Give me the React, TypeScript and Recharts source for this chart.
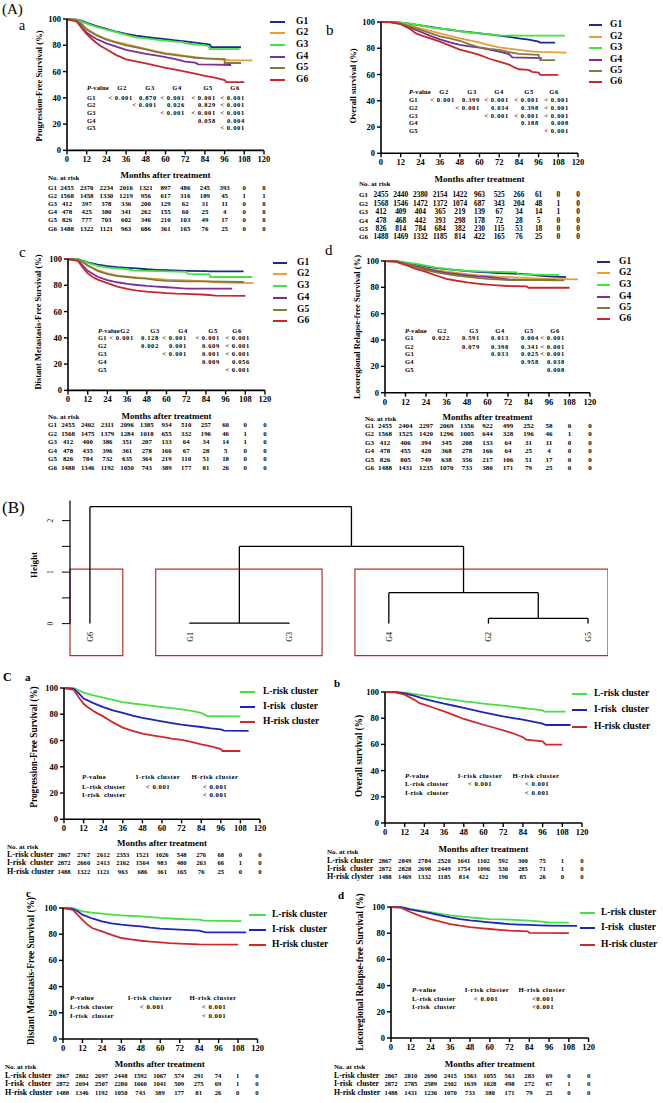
import React from "react";
import { LineChart, Line, XAxis, YAxis, ReferenceLine, ReferenceArea } from "recharts";

type Pt = [number, number];
type Geo = { x0: number; x1: number; yTop: number; yBot: number };

const SERIF = '"Liberation Serif", "Times New Roman", serif';

const monthTicks = [0, 12, 24, 36, 48, 60, 72, 84, 96, 108, 120];
const survTicks = [0, 20, 40, 60, 80, 100];

const groupNames = ["G1", "G2", "G3", "G4", "G5", "G6"];
const groupColors = ["#1c2a8c", "#e89c3c", "#3ee63e", "#7b2d98", "#7f7b3b", "#c8282b"];
const clusterNames = ["L-risk cluster", "I-risk  cluster", "H-risk cluster"];
const clusterColors = ["#44e044", "#1e24b8", "#cc2a2a"];

// (A)a progression-free survival
const pfsG1: Pt[] = [[0,100],[6,99.6],[9,98.5],[12,97],[18,94.5],[24,92.4],[30,90.3],[36,88.6],[42,87.3],[48,86.3],[54,85.5],[60,84.6],[66,83.8],[72,83],[78,82],[84,81],[87,80.5],[88,78.5],[106,78.5]];
const pfsG2: Pt[] = [[0,100],[6,99],[9,96],[12,92.5],[18,88],[24,84.8],[30,82.5],[36,80.8],[42,79],[48,77.2],[54,75.5],[60,74],[66,73],[72,72],[78,71],[84,70],[90,69.5],[96,69],[100,68.5],[113,68.5]];
const pfsG3: Pt[] = [[0,100],[6,99.5],[12,96.5],[18,94],[24,92],[30,90],[36,88],[42,86],[48,85.2],[54,84.3],[60,83.5],[66,82.8],[70,82.5],[72,81.5],[84,80],[86,79.5],[87,77],[105,77]];
const pfsG4: Pt[] = [[0,100],[6,98.5],[9,94],[12,89.5],[15,87],[18,84.8],[24,81.5],[30,79],[36,76.5],[42,75],[48,73.5],[54,72.3],[60,71],[66,69.5],[72,67.5],[78,66.8],[80,65.5],[90,65.2],[100,65]];
const pfsG5: Pt[] = [[0,100],[6,99],[9,96],[12,92],[18,87.5],[24,84.3],[30,82],[36,80],[42,78.5],[48,76.8],[54,75],[60,73.5],[66,72.5],[72,71.5],[78,70.5],[84,70],[96,69.5],[96,66.5],[106,66.5]];
const pfsG6: Pt[] = [[0,100],[6,98],[9,93],[12,88.5],[15,85],[18,81.7],[21,79],[24,77],[30,72.5],[36,69.3],[42,67.8],[48,66.3],[54,64.5],[60,62.8],[66,61.5],[72,60],[78,58.5],[84,56.8],[90,55.4],[96,53.5],[97,52],[108,52]];

// (A)b overall survival
const osG1: Pt[] = [[0,100],[6,100],[12,99.5],[18,98.5],[24,97.5],[30,96.3],[36,95.2],[42,94],[48,93],[54,92.2],[60,91.4],[66,90.5],[72,89.6],[78,88.6],[84,87.6],[90,86.5],[96,85],[97,84.3],[106,84.3]];
const osG2: Pt[] = [[0,100],[6,100],[12,99],[18,97.3],[24,95.2],[30,93.3],[36,91.4],[42,89.5],[48,87.6],[54,86],[60,84.3],[66,82.4],[72,80.7],[78,79.7],[84,78.7],[90,77.8],[96,77.2],[113,76.6]];
const osG3: Pt[] = [[0,100],[6,100],[12,99.5],[18,98.7],[24,97.5],[30,96],[36,95],[42,94.3],[48,92.8],[54,92],[60,91.4],[66,90.5],[72,89.8],[84,89.6],[112,89.6]];
const osG4: Pt[] = [[0,100],[6,100],[12,98.5],[18,95.5],[24,92.6],[30,89.5],[36,86.8],[42,84.5],[48,82.5],[54,81.5],[60,80.5],[66,79],[72,77.4],[78,75.5],[80,73],[98,72.5]];
const osG5: Pt[] = [[0,100],[6,100],[12,98.8],[18,96.5],[24,94],[30,91.5],[36,89],[42,87.5],[48,85.7],[54,83],[60,80.7],[66,79.5],[72,78.7],[78,77],[84,75.7],[96,75],[97,71],[106,71]];
const osG6: Pt[] = [[0,100],[6,99.8],[12,98.3],[18,94.5],[21,91.5],[24,90],[30,87.5],[36,85],[42,82],[48,79],[54,77],[60,74.9],[66,72],[72,69.8],[78,67.5],[82,65],[84,64],[90,63.5],[92,62],[96,61.5],[97,59.8],[108,59.8]];

// (A)c distant metastasis-free survival
const dmfsG1: Pt[] = [[0,100],[6,99.8],[12,97.5],[18,95.8],[24,94.5],[30,93.8],[36,93.3],[42,92.8],[48,92.2],[54,91.8],[60,91.5],[72,91],[84,90.8],[86,90.6],[107,90.6]];
const dmfsG2: Pt[] = [[0,100],[6,99.5],[9,97.5],[12,95],[18,91.5],[24,89],[30,87.5],[36,86.8],[42,86],[48,85.3],[54,84.8],[60,84.3],[72,83.8],[84,83],[90,82.3],[96,82],[113,81.7]];
const dmfsG3: Pt[] = [[0,100],[6,99.8],[12,97],[18,94.8],[24,93.5],[30,92.8],[36,92.2],[40,91.2],[48,91],[60,90.6],[72,90.2],[73,88.6],[86,88.3],[87,86.3],[112,86.3]];
const dmfsG4: Pt[] = [[0,100],[6,99],[9,95],[12,91],[18,86.5],[24,84],[30,82.3],[36,81],[42,80.2],[48,79.5],[54,79],[60,78.5],[66,78],[72,77.5],[84,77.4],[100,77.4]];
const dmfsG5: Pt[] = [[0,100],[6,99.5],[9,97.5],[12,95],[18,91],[24,88.5],[30,87],[36,86.2],[42,85.5],[48,85],[54,84],[60,83.3],[72,83],[84,83],[107,82.5]];
const dmfsG6: Pt[] = [[0,100],[6,98.5],[9,93.5],[12,89],[15,86.3],[18,84.3],[24,81.7],[30,79],[36,77.2],[42,76],[48,75.2],[54,74.6],[60,74],[66,73.6],[72,73.4],[84,72.8],[90,72.2],[108,72]];

// (A)d locoregional relapse-free survival
const lrfsG1: Pt[] = [[0,100],[6,100],[12,98.5],[18,97],[24,95.6],[30,94.6],[36,93.8],[42,93],[48,92.3],[54,91.8],[60,91.3],[66,90.9],[72,90.6],[78,90.2],[84,89.8],[90,89],[96,88.3],[106,87.8]];
const lrfsG2: Pt[] = [[0,100],[6,99.8],[12,98.3],[18,96.3],[24,94.5],[30,93],[36,92],[42,91],[48,90],[54,89.2],[60,88.6],[66,88.2],[72,87.8],[78,87.4],[84,87],[96,86.5],[113,86]];
const lrfsG3: Pt[] = [[0,100],[6,100],[12,99],[18,98],[24,96.5],[30,95],[36,94],[42,93],[48,92.5],[60,92],[72,91.5],[77,91.3],[78,89.8],[96,89.5],[102,89.5]];
const lrfsG4: Pt[] = [[0,100],[6,99.8],[12,98],[18,96],[24,94],[30,92.3],[36,91],[42,90],[48,89],[54,88.4],[60,88],[66,87],[72,86],[84,85.5],[100,85.5]];
const lrfsG5: Pt[] = [[0,100],[6,99.8],[12,97.8],[18,95.3],[24,93],[30,91.3],[36,90],[42,89],[48,88],[54,87.2],[60,86.5],[66,86],[72,85.5],[84,85.5],[105,85.3]];
const lrfsG6: Pt[] = [[0,100],[6,99.5],[12,97],[18,94],[24,91.8],[30,89],[36,86.5],[42,85],[48,83.7],[54,82.8],[60,82],[66,81.5],[72,81],[83,80.7],[84,79.7],[108,79.7]];

// (C) risk clusters
const pfsL: Pt[] = [[0,100],[6,99.8],[9,98.3],[12,96.5],[18,94.3],[24,92.6],[30,90.9],[36,89.3],[42,88.2],[48,87.3],[54,86.4],[60,85.5],[66,84.7],[72,83.8],[78,82.5],[84,81],[88,78.5],[108,78.4]];
const pfsI: Pt[] = [[0,100],[6,99.3],[9,96],[12,92],[18,88.5],[24,85.5],[30,83],[36,81],[42,79],[48,77.3],[54,75.9],[60,74.6],[66,73.3],[72,72.1],[78,71.2],[84,70.3],[90,69.3],[96,68.5],[98,67.5],[113,67.3]];
const pfsH: Pt[] = [[0,100],[6,98.5],[9,93],[12,88],[15,85],[18,82.5],[21,80.3],[24,78.4],[30,73.8],[36,69.8],[42,67.3],[48,65.2],[54,64],[60,62.7],[66,61.5],[72,60.5],[78,59],[84,57.1],[90,55.6],[96,53.5],[97,52],[108,52]];
const osL: Pt[] = [[0,100],[6,100],[12,99.5],[18,98.3],[24,97.2],[30,96.1],[36,95],[42,94],[48,92.9],[54,92],[60,91.1],[66,90.4],[72,89.6],[78,88.7],[84,87.8],[90,86.9],[96,86],[97,85],[110,85]];
const osI: Pt[] = [[0,100],[6,100],[12,99],[18,97],[24,94.7],[30,92.9],[36,91.1],[42,89.5],[48,87.8],[54,86.2],[60,84.5],[66,82.9],[72,81.4],[78,80.1],[84,78.9],[90,77.4],[96,75.8],[98,74.8],[113,74.8]];
const osH: Pt[] = [[0,100],[6,99.8],[12,98],[18,94],[21,91.5],[24,90.3],[30,87.8],[36,85.2],[42,82.3],[48,79.4],[54,77.2],[60,75],[66,72.9],[72,70.7],[78,68.5],[84,65.5],[86,63.6],[96,62.3],[98,59.8],[108,59.8]];
const dmfsL: Pt[] = [[0,100],[6,99.8],[12,97.5],[18,96.5],[24,95.7],[30,95],[36,94.4],[42,94],[48,93.6],[54,93],[60,92.4],[66,92],[72,91.6],[78,91.3],[84,91.1],[87,90.3],[110,90]];
const dmfsI: Pt[] = [[0,100],[6,99.3],[9,97.5],[12,94.9],[18,92],[24,89.8],[30,88.3],[36,87.3],[42,86.6],[48,86],[54,85],[60,84.2],[66,83.8],[72,83.5],[78,83.1],[84,82.7],[88,81.4],[113,81.4]];
const dmfsH: Pt[] = [[0,100],[6,98.5],[9,95],[12,91],[15,87.5],[18,84.7],[24,82.2],[30,79.5],[36,77.1],[42,76],[48,75],[54,74.3],[60,73.8],[66,73.2],[72,72.8],[84,72.3],[108,72]];
const lrfsL: Pt[] = [[0,100],[6,100],[12,98.5],[18,97.2],[24,96],[30,94.8],[36,93.6],[42,92.8],[48,92.1],[54,91.4],[60,90.8],[66,90.5],[72,90.3],[78,90],[84,89.6],[90,89],[96,88.3],[108,88]];
const lrfsI: Pt[] = [[0,100],[6,99.8],[12,98],[18,96.6],[24,95.4],[30,93.7],[36,92.1],[42,90.8],[48,89.8],[54,89],[60,88.3],[66,87.6],[72,87],[78,86.6],[84,86.3],[90,86],[96,85.8],[113,85.6]];
const lrfsH: Pt[] = [[0,100],[6,99.5],[12,96],[18,93],[24,90.8],[30,88.8],[36,87],[42,85.7],[48,84.7],[54,83.9],[60,83.2],[66,82.5],[72,81.9],[83,81.4],[84,80.2],[108,80]];

// numbers at risk
const riskAa = [
  [2455,2370,2234,2016,1321,897,486,245,393,0,0],
  [1568,1458,1330,1219,956,617,316,189,45,1,1],
  [412,397,378,336,200,129,62,31,11,0,0],
  [478,425,380,341,262,155,60,25,4,0,0],
  [826,777,703,602,346,210,103,49,17,0,0],
  [1488,1322,1121,963,686,361,165,76,25,0,0],
];
const riskAb = [
  [2455,2440,2380,2154,1422,963,525,266,61,0,0],
  [1568,1546,1472,1372,1074,687,343,204,48,1,0],
  [412,409,404,365,219,139,67,34,14,1,0],
  [478,468,442,393,298,178,72,28,5,0,0],
  [826,814,784,684,382,230,115,53,18,0,0],
  [1488,1469,1332,1185,814,422,165,76,25,0,0],
];
const riskAc = [
  [2455,2402,2311,2096,1385,934,510,257,60,0,0],
  [1568,1475,1379,1284,1018,655,332,196,46,1,0],
  [412,400,386,351,207,133,64,34,14,1,0],
  [478,435,396,361,278,166,67,28,5,0,0],
  [826,784,732,635,364,219,110,51,18,0,0],
  [1488,1346,1192,1050,743,389,177,81,26,0,0],
];
const riskAd = [
  [2455,2404,2297,2069,1356,922,499,252,58,0,0],
  [1568,1525,1420,1296,1005,644,328,196,46,1,0],
  [412,406,394,345,208,133,64,31,11,0,0],
  [478,455,420,368,278,166,64,25,4,0,0],
  [826,805,749,638,356,217,106,51,17,0,0],
  [1488,1431,1235,1070,733,380,171,79,25,0,0],
];
const riskCa = [
  [2867,2767,2612,2353,1521,1026,548,276,68,0,0],
  [2872,2660,2413,2162,1564,983,480,263,66,1,0],
  [1488,1322,1121,963,686,361,165,76,25,0,0],
];
const riskCb = [
  [2867,2849,2784,2520,1641,1102,592,300,75,1,0],
  [2872,2828,2698,2449,1754,1096,530,285,71,1,0],
  [1488,1469,1332,1185,814,422,190,85,26,0,0],
];
const riskCc = [
  [2867,2802,2697,2448,1592,1067,574,291,74,1,0],
  [2872,2694,2507,2280,1660,1041,509,275,69,1,0],
  [1488,1346,1192,1050,743,389,177,81,26,0,0],
];
const riskCd = [
  [2867,2810,2690,2415,1563,1055,563,283,69,0,0],
  [2872,2785,2589,2302,1639,1028,498,272,67,1,0],
  [1488,1431,1236,1070,733,380,171,79,25,0,0],
];

// pairwise p-values
const pHeadA = ["G2", "G3", "G4", "G5", "G6"];
const pRowsA = ["G1", "G2", "G3", "G4", "G5"];
const pValAa = [
  ["< 0.001","0.870","< 0.001","< 0.001","< 0.001"],
  ["","< 0.001","0.026","0.829","< 0.001"],
  ["","","< 0.001","< 0.001","< 0.001"],
  ["","","","0.058","0.004"],
  ["","","","","< 0.001"],
];
const pValAb = [
  ["< 0.001","0.399","< 0.001","< 0.001","< 0.001"],
  ["","< 0.001","0.034","0.398","< 0.001"],
  ["","","< 0.001","< 0.001","< 0.001"],
  ["","","","0.188","0.008"],
  ["","","","","< 0.001"],
];
const pValAc = [
  ["< 0.001","0.128","< 0.001","< 0.001","< 0.001"],
  ["","0.002","0.001","0.609","< 0.001"],
  ["","","< 0.001","0.001","< 0.001"],
  ["","","","0.009","0.056"],
  ["","","","","< 0.001"],
];
const pValAd = [
  ["0.022","0.591","0.013","0.004","< 0.001"],
  ["","0.079","0.398","0.341","< 0.001"],
  ["","","0.033","0.025","< 0.001"],
  ["","","","0.958","0.038"],
  ["","","","","0.008"],
];
const pHeadC = ["I-risk cluster", "H-risk cluster"];
const pRowsC = ["L-risk cluster", "I-risk  cluster"];
const pValC = [["< 0.001", "< 0.001"], ["", "< 0.001"]];
const pValCd = [["< 0.001", "<0.001"], ["", "<0.001"]];

// (B) hierarchical clustering
const dendroLeaves = ["G6", "G1", "G3", "G4", "G2", "G5"];
const dendroMerges: [number, number][] = [[-2, -3], [-5, -6], [-4, 2], [1, 3], [-1, 4]];
const dendroHeights = [0.01, 0.1, 0.6, 1.5, 2.27];
const dendroClusters: [number, number][] = [[1, 1], [2, 3], [4, 6]];
const dendroCut = 1.06;
const heightTicks = [0, 0.5, 1, 1.5, 2];

function Txt(p: any) {
  const { x, y, size, bold, align = "left", rot, italic, ls = 0, children } = p;
  const tx = align === "left" ? "0" : align === "center" ? "-50%" : "-100%";
  return (
    <div
      style={{
        position: "absolute",
        left: x,
        top: y,
        transform: rot ? "translate(-50%,-50%) rotate(-90deg)" : `translate(${tx},-50%)`,
        fontFamily: SERIF,
        fontSize: size,
        fontWeight: bold ? 700 : 400,
        fontStyle: italic ? "italic" : "normal",
        letterSpacing: ls,
        whiteSpace: "pre",
        lineHeight: 1,
        color: "#000",
      }}
    >
      {children}
    </div>
  );
}

function KMChart({ geo, series, colors }: { geo: Geo; series: Pt[][]; colors: string[] }) {
  const YW = 30, MT = 6, MR = 8, XH = 22;
  const w = geo.x1 - geo.x0 + YW + MR;
  const h = geo.yBot - geo.yTop + MT + XH;
  const tick = { fontSize: 8.5, fontWeight: 700, fill: "#000", fontFamily: SERIF };
  return (
    <div style={{ position: "absolute", left: geo.x0 - YW, top: geo.yTop - MT }}>
      <LineChart width={w} height={h} margin={{ top: MT, right: MR, left: 0, bottom: 0 }}>
        <XAxis
          type="number"
          dataKey="m"
          domain={[0, 120]}
          ticks={monthTicks}
          interval={0}
          height={XH}
          tickSize={4}
          tick={tick}
          axisLine={{ stroke: "#000", strokeWidth: 1.6 }}
          tickLine={{ stroke: "#000", strokeWidth: 1.4 }}
          allowDataOverflow
        />
        <YAxis
          type="number"
          domain={[0, 100]}
          ticks={survTicks}
          interval={0}
          width={YW}
          tickSize={4}
          tick={tick}
          axisLine={{ stroke: "#000", strokeWidth: 1.6 }}
          tickLine={{ stroke: "#000", strokeWidth: 1.4 }}
        />
        {series.map((s, i) => (
          <Line
            key={i}
            data={s.map(([m, v]) => ({ m, v }))}
            dataKey="v"
            type="linear"
            stroke={colors[i]}
            strokeWidth={1.8}
            dot={false}
            isAnimationActive={false}
          />
        ))}
      </LineChart>
    </div>
  );
}

function KMPanel(p: any) {
  const { geo, series, colors, names, yTitle, yTitleAt, titleSize, legend, risk, ptab } = p;
  const xAt = (m: number) => geo.x0 + (m / 120) * (geo.x1 - geo.x0);
  return (
    <>
      <KMChart geo={geo} series={series} colors={colors} />
      <Txt x={yTitleAt[0]} y={yTitleAt[1]} size={titleSize} bold rot>{yTitle}</Txt>
      {names.map((n: string, i: number) => (
        <React.Fragment key={n}>
          <div style={{ position: "absolute", left: legend.x1, top: legend.ys[i] - 1.2, width: legend.x2 - legend.x1, height: 2.4, background: colors[i] }} />
          <Txt x={legend.tx} y={legend.ys[i]} size={legend.size} bold>{n}</Txt>
        </React.Fragment>
      ))}
      <Txt x={(geo.x0 + geo.x1) / 2} y={risk.titleY} size={9} bold align="center">Months after treatment</Txt>
      <Txt x={risk.noAt[0]} y={risk.noAt[1]} size={7} bold>No. at risk</Txt>
      {risk.rows.map((row: number[], r: number) => (
        <React.Fragment key={r}>
          <Txt x={risk.labelX} y={risk.ys[r]} size={risk.labelSize} bold>{risk.labels ? risk.labels[r] : names[r]}</Txt>
          {row.map((v: number, k: number) => (
            <Txt key={k} x={xAt(monthTicks[k])} y={risk.ys[r]} size={risk.size} bold align="center">{String(v)}</Txt>
          ))}
        </React.Fragment>
      ))}
      <Txt x={ptab.labelX} y={ptab.headerY} size={ptab.size} ls={ptab.lls} bold>
        <i>P</i>-value
      </Txt>
      {ptab.heads.map((hd: string, k: number) => (
        <Txt key={hd} x={ptab.headAt[k]} y={ptab.headerY} size={ptab.size} ls={ptab.ls} bold align="center">{hd}</Txt>
      ))}
      {ptab.rowLabels.map((rl: string, r: number) => (
        <React.Fragment key={rl}>
          <Txt x={ptab.labelX} y={ptab.rowYs[r]} size={ptab.size} ls={ptab.lls} bold>{rl}</Txt>
          {ptab.vals[r].map((v: string, k: number) =>
            v ? (
              <Txt key={k} x={ptab.valAt[k]} y={ptab.rowYs[r]} size={ptab.size} ls={ptab.ls} bold align={ptab.valAlign}>{v}</Txt>
            ) : null
          )}
        </React.Fragment>
      ))}
    </>
  );
}

function dendroSegments() {
  const nodes: { x: number; h: number }[] = [];
  const segs: [number, number, number, number][] = [];
  const get = (id: number) => (id < 0 ? { x: -id, h: 0 } : nodes[id - 1]);
  dendroMerges.forEach(([a, b], i) => {
    const h = dendroHeights[i];
    const A = get(a);
    const B = get(b);
    segs.push([A.x, A.h, A.x, h], [A.x, h, B.x, h], [B.x, h, B.x, B.h]);
    nodes.push({ x: (A.x + B.x) / 2, h });
  });
  return segs;
}

const HeightTick = (p: any) => {
  const v = p.payload.value;
  if (!Number.isInteger(v)) return null;
  const x = p.x - 7;
  return (
    <text x={x} y={p.y} transform={`rotate(-90 ${x} ${p.y})`} textAnchor="middle" fontSize={7.5} fontFamily={SERIF} fill="#000">
      {v}
    </text>
  );
};

const LeafTick = (p: any) => {
  const name = dendroLeaves[p.payload.value - 1];
  const x = p.x + 3;
  const y = 133;
  return (
    <text x={x} y={y} transform={`rotate(-90 ${x} ${y})`} textAnchor="end" fontSize={8} fontFamily={SERIF} fill="#000">
      {name}
    </text>
  );
};

function Dendrogram() {
  const xMin = 0.8, xMax = 6.2;
  const segs = dendroSegments();
  return (
    <div style={{ position: "absolute", left: 40, top: 499.4 }}>
      <LineChart
        width={568}
        height={168.6}
        data={dendroLeaves.map((n, i) => ({ x: i + 1 }))}
        margin={{ top: 0, right: 0, left: 0, bottom: 0 }}
      >
        <XAxis type="number" dataKey="x" domain={[xMin, xMax]} ticks={[1, 2, 3, 4, 5, 6]} interval={0} height={10} axisLine={false} tickLine={false} tick={<LeafTick />} allowDataOverflow />
        <YAxis type="number" domain={[-0.66, 2.42]} ticks={heightTicks} interval={0} width={30} tickSize={8} axisLine={false} tickLine={{ stroke: "#000" }} tick={<HeightTick />} allowDataOverflow />
        <ReferenceLine segment={[{ x: xMin, y: 0 }, { x: xMin, y: 2.39 }]} stroke="#000" strokeWidth={1.2} ifOverflow="visible" />
        {dendroClusters.map(([a, b], i) => (
          <ReferenceArea
            key={i}
            x1={Math.max(a - 0.34, xMin)}
            x2={Math.min(b + 0.33, xMax)}
            y1={-0.62}
            y2={dendroCut}
            fill="none"
            fillOpacity={0}
            stroke="#b3302e"
            strokeWidth={1.2}
            ifOverflow="visible"
          />
        ))}
        {segs.map(([x1, y1, x2, y2], i) => (
          <ReferenceLine key={i} segment={[{ x: x1, y: y1 }, { x: x2, y: y2 }]} stroke="#000" strokeWidth={1.3} ifOverflow="visible" />
        ))}
      </LineChart>
    </div>
  );
}

export default function App() {
  const aRiskBase = { labelSize: 7 };
  const aP = { heads: pHeadA, rowLabels: pRowsA, valAlign: "right", size: 6.5, ls: 0.7, lls: 0.1 };
  const cP = { heads: pHeadC, rowLabels: pRowsC, valAlign: "center", size: 6.8, ls: 0.5, lls: 0.3 };
  const cLabels = ["L-risk cluster", "I-risk  cluster", "H-risk cluster"];
  return (
    <div style={{ position: "absolute", left: 0, top: 0, width: 663, height: 1103, background: "#fff", overflow: "hidden" }}>
      <Txt x={2} y={9} size={15}>(A)</Txt>
      <Txt x={19} y={25.5} size={14}>a</Txt>
      <Txt x={326} y={30} size={15}>b</Txt>
      <Txt x={19} y={252} size={15}>c</Txt>
      <Txt x={325} y={250} size={15}>d</Txt>
      <Txt x={2} y={507} size={17}>(B)</Txt>
      <Txt x={3} y={677} size={12} bold>C</Txt>
      <Txt x={25} y={677} size={11} bold>a</Txt>
      <Txt x={334} y={683} size={11} bold>b</Txt>
      <Txt x={26} y={893} size={11} bold>c</Txt>
      <Txt x={338} y={895} size={11} bold>d</Txt>

      <KMPanel
        geo={{ x0: 67, x1: 264, yTop: 19.3, yBot: 150.7 }}
        series={[pfsG1, pfsG2, pfsG3, pfsG4, pfsG5, pfsG6]}
        colors={groupColors}
        names={groupNames}
        yTitle="Progression-Free Survival (%)"
        yTitleAt={[39, 86]}
        titleSize={8.5}
        legend={{ x1: 270, x2: 285, tx: 296, ys: [22, 33, 45, 57, 68, 80], size: 9.5 }}
        risk={{ ...aRiskBase, noAt: [48, 178.3], titleY: 174.7, labelX: 48, ys: [187.5, 195.5, 203.7, 212, 220.3, 228.7], rows: riskAa, size: 6.8 }}
        ptab={{ ...aP, labelX: 87, headerY: 88, rowYs: [97.7, 105.3, 113.3, 121, 128.3], headAt: [122, 150, 177, 208, 235], valAt: [133, 157, 185, 216, 245], vals: pValAa }}
      />
      <KMPanel
        geo={{ x0: 381, x1: 578, yTop: 22, yBot: 153.3 }}
        series={[osG1, osG2, osG3, osG4, osG5, osG6]}
        colors={groupColors}
        names={groupNames}
        yTitle="Overall survival (%)"
        yTitleAt={[353, 86]}
        titleSize={8.5}
        legend={{ x1: 589, x2: 602, tx: 610, ys: [25, 37, 48, 60, 71, 82], size: 9.5 }}
        risk={{ ...aRiskBase, noAt: [359, 184.3], titleY: 179, labelX: 359, ys: [195, 203.5, 212, 220.5, 228.8, 237], rows: riskAb, size: 7.4 }}
        ptab={{ ...aP, labelX: 409, headerY: 92.3, rowYs: [100, 107.7, 115.7, 123.3, 131], headAt: [444, 472, 499, 529, 554], valAt: [455, 480, 509, 539, 569], vals: pValAb }}
      />
      <KMPanel
        geo={{ x0: 68, x1: 265, yTop: 259.3, yBot: 390.7 }}
        series={[dmfsG1, dmfsG2, dmfsG3, dmfsG4, dmfsG5, dmfsG6]}
        colors={groupColors}
        names={groupNames}
        yTitle="Distant Metastasis-Free Survival (%)"
        yTitleAt={[38, 322]}
        titleSize={8.5}
        legend={{ x1: 273, x2: 287, tx: 297, ys: [263, 274, 286, 298, 310, 321], size: 9.5 }}
        risk={{ ...aRiskBase, noAt: [48, 417.3], titleY: 415.7, labelX: 48, ys: [425, 433.5, 442, 450.5, 459, 467.5], rows: riskAc, size: 6.8 }}
        ptab={{ ...aP, labelX: 98, headerY: 331, rowYs: [337.7, 345.7, 354, 362.3, 370], headAt: [125, 155, 183, 213, 237], valAt: [134, 159, 187, 220, 250], vals: pValAc }}
      />
      <KMPanel
        geo={{ x0: 385, x1: 590, yTop: 261, yBot: 392.7 }}
        series={[lrfsG1, lrfsG2, lrfsG3, lrfsG4, lrfsG5, lrfsG6]}
        colors={groupColors}
        names={groupNames}
        yTitle="Locoregional Relapse-free Survival (%)"
        yTitleAt={[357, 327]}
        titleSize={8.5}
        legend={{ x1: 597, x2: 610, tx: 619, ys: [262, 273, 285, 297, 308, 319], size: 9.5 }}
        risk={{ ...aRiskBase, noAt: [365, 418.5], titleY: 417, labelX: 365, ys: [425.7, 434, 442.7, 451, 459.7, 468.3], rows: riskAd, size: 7 }}
        ptab={{ ...aP, labelX: 405, headerY: 330.7, rowYs: [338.3, 346.7, 354.3, 362.3, 370], headAt: [442, 474, 500, 529, 555], valAt: [450, 480, 509, 539, 565], vals: pValAd }}
      />

      <Txt x={34} y={565} size={9} bold rot>Height</Txt>
      <Dendrogram />

      <KMPanel
        geo={{ x0: 64, x1: 260, yTop: 687.7, yBot: 819 }}
        series={[pfsL, pfsI, pfsH]}
        colors={clusterColors}
        names={clusterNames}
        yTitle="Progression-Free Survival (%)"
        yTitleAt={[35, 747]}
        titleSize={9.3}
        legend={{ x1: 240, x2: 255, tx: 263, ys: [692, 707, 722], size: 9.5 }}
        risk={{ noAt: [7, 847], titleY: 843, labelX: 7, ys: [855, 863.3, 871.7], rows: riskCa, size: 6.6, labelSize: 8, labels: cLabels }}
        ptab={{ ...cP, labelX: 82, headerY: 777, rowYs: [786.7, 795.3], headAt: [158, 215], valAt: [158, 215], vals: pValC }}
      />
      <KMPanel
        geo={{ x0: 385, x1: 582, yTop: 692.3, yBot: 823.3 }}
        series={[osL, osI, osH]}
        colors={clusterColors}
        names={clusterNames}
        yTitle="Overall survival (%)"
        yTitleAt={[360, 756]}
        titleSize={9.3}
        legend={{ x1: 572, x2: 587, tx: 594, ys: [694, 710, 727], size: 9.5 }}
        risk={{ noAt: [327, 852], titleY: 849, labelX: 327, ys: [860.7, 869, 877.3], rows: riskCb, size: 6.6, labelSize: 8, labels: ["L-risk cluster", "I-risk  cluster", "H-risk clyster"] }}
        ptab={{ ...cP, labelX: 405, headerY: 775.7, rowYs: [784.3, 793.3], headAt: [480, 536], valAt: [480, 537], vals: pValC }}
      />
      <KMPanel
        geo={{ x0: 62.5, x1: 257, yTop: 908.3, yBot: 1039.3 }}
        series={[dmfsL, dmfsI, dmfsH]}
        colors={clusterColors}
        names={clusterNames}
        yTitle="Distant Metastasis-Free Survival (%)"
        yTitleAt={[32, 971]}
        titleSize={9.3}
        legend={{ x1: 249, x2: 266, tx: 272, ys: [915, 930, 945], size: 9.5 }}
        risk={{ noAt: [5, 1067], titleY: 1064, labelX: 5, ys: [1076, 1084.3, 1092.7], rows: riskCc, size: 6.6, labelSize: 8, labels: cLabels }}
        ptab={{ ...cP, labelX: 70, headerY: 998.3, rowYs: [1007.3, 1016], headAt: [150, 213], valAt: [152, 214], vals: pValC }}
      />
      <KMPanel
        geo={{ x0: 391, x1: 588.6, yTop: 907.3, yBot: 1038.3 }}
        series={[lrfsL, lrfsI, lrfsH]}
        colors={clusterColors}
        names={clusterNames}
        yTitle="Locoregional Relapse-free Survival (%)"
        yTitleAt={[361, 972]}
        titleSize={9.3}
        legend={{ x1: 580, x2: 595, tx: 601, ys: [913, 928, 945], size: 9.5 }}
        risk={{ noAt: [334, 1067], titleY: 1064, labelX: 334, ys: [1076, 1084.3, 1092.7], rows: riskCd, size: 6.6, labelSize: 7.8, labels: cLabels }}
        ptab={{ ...cP, labelX: 412, headerY: 990, rowYs: [999, 1007.3], headAt: [487, 542], valAt: [486, 543], vals: pValCd }}
      />
    </div>
  );
}
